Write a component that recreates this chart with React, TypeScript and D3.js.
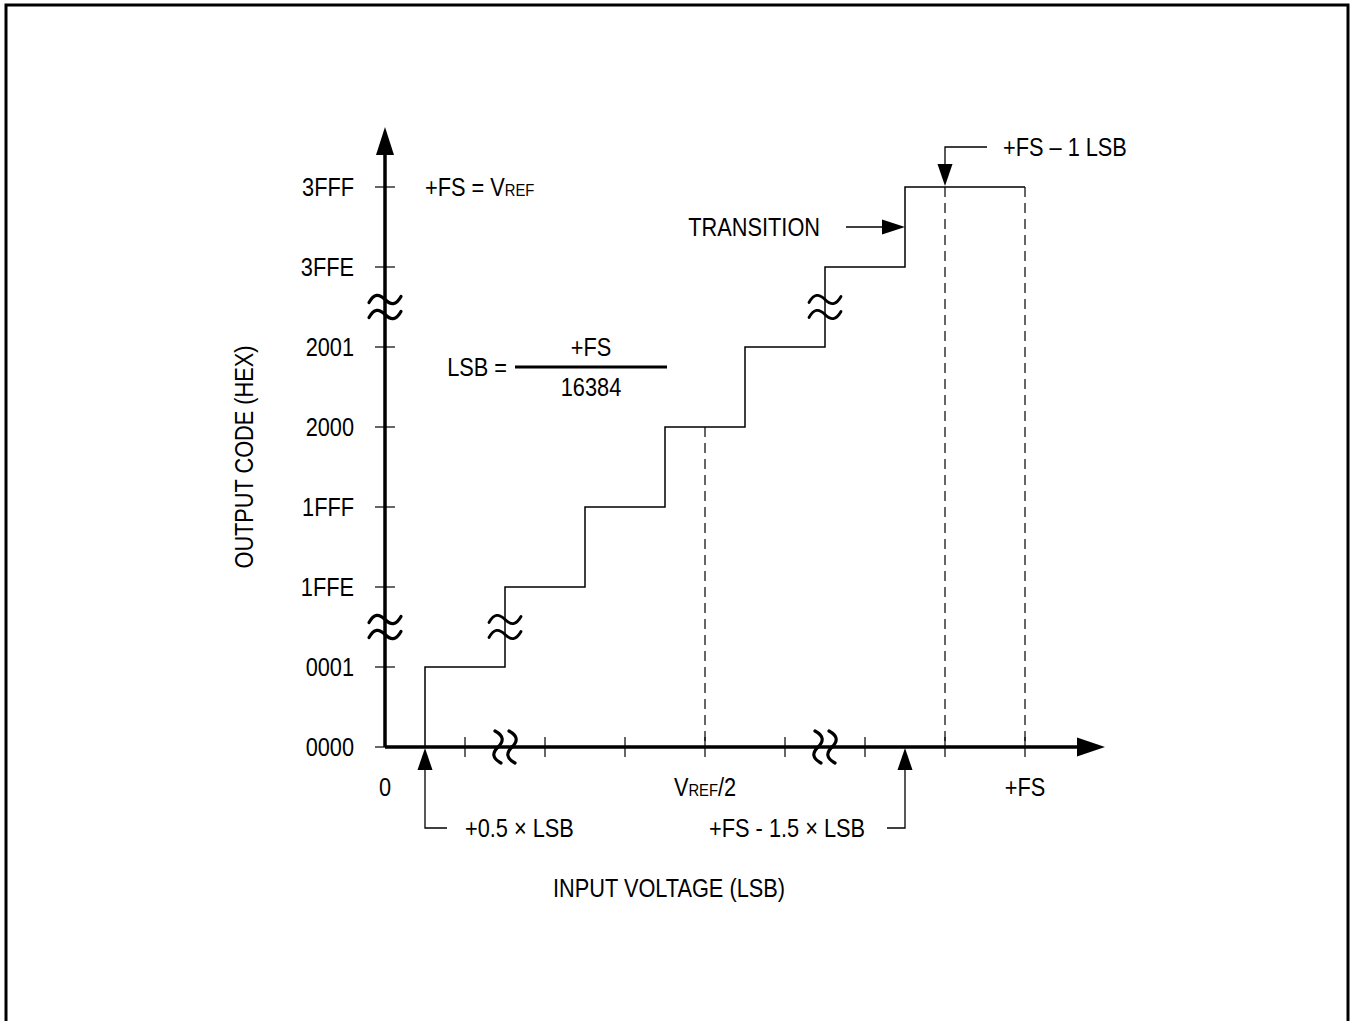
import React from "react";
import * as d3 from "d3";

// ---- data ----
const yCodeLabels = ["0000", "0001", "1FFE", "1FFF", "2000", "2001", "3FFE", "3FFF"];
const yCodeLevels = [0, 1, 2, 3, 4, 5, 6, 7];
const xTickValues = [1, 2, 3, 4, 5, 6, 7, 8];
const stepX = [0.5, 1.5, 2.5, 3.5, 4.5, 5.5, 6.5, 8];
const stepCode = [0, 1, 2, 3, 4, 5, 6, 7];
const dashedX = [4, 7, 8];
const dashedTop = [4, 7, 7];
const axisBreaks = [1.5, 5.5];
const stepBreaks: [number, number][] = [[1.5, 1.5], [5.5, 5.5]];

const W = 1350;
const H = 1021;
const FONT = "'Liberation Sans', Arial, sans-serif";
const FS = 25;
const SUB = 17;
const SX = 0.87;

const x = d3.scaleLinear().domain([0, 9]).range([385, 1105]);
const y = d3.scaleLinear().domain([0, 7.75]).range([747, 127]);

const tilde = "M-16,3 C-11,-6 -6,-6 0,0 C6,6 11,6 16,-3";

function Tilde({ cx, cy, rot = 0, w = 3 }: { cx: number; cy: number; rot?: number; w?: number }) {
  return (
    <path d={tilde} transform={`translate(${cx},${cy}) rotate(${rot})`} fill="none" stroke="#000" strokeWidth={w} strokeLinecap="round" />
  );
}

function Txt(props: any) {
  const { children, x: tx = 0, y: ty = 0, rot = 0, ...rest } = props;
  return (
    <text
      transform={`translate(${tx},${ty}) rotate(${rot}) scale(${SX},1)`}
      fontFamily={FONT}
      fontSize={FS}
      fill="#000"
      {...rest}
    >
      {children}
    </text>
  );
}

export default function App() {
  const stepLine = d3
    .line<number>()
    .x((_, i) => x(stepX[i]))
    .y((d) => y(d))
    .curve(d3.curveStepBefore);

  const x0 = x(0);
  const y0 = y(0);
  const capHalf = 9;

  return (
    <svg width={W} height={H} style={{ position: "absolute", left: 0, top: 0, background: "#fff" }}>
      <rect x={0} y={0} width={W} height={H} fill="#fff" />
      {/* frame */}
      <rect x={6} y={5} width={1342} height={1040} fill="none" stroke="#000" strokeWidth={3} />

      {/* dashed verticals */}
      {dashedX.map((d, i) => (
        <line key={"dl" + i} x1={x(d)} x2={x(d)} y1={y(dashedTop[i])} y2={y0} stroke="#000" strokeWidth={1.2} strokeDasharray="10,6" />
      ))}

      {/* step transfer function */}
      <path d={stepLine(stepCode) || ""} fill="none" stroke="#000" strokeWidth={1.5} />
      {stepBreaks.map(([bx, by], i) => (
        <g key={"sb" + i}>
          <Tilde cx={x(bx)} cy={y(by) - 7.5} w={2.8} />
          <Tilde cx={x(bx)} cy={y(by) + 7.5} w={2.8} />
        </g>
      ))}

      {/* y axis */}
      <line x1={x0} x2={x0} y1={y0} y2={y(7.75) + 20} stroke="#000" strokeWidth={3.5} />
      <path d={`M${x0},${y(7.75)} L${x0 - 9},${y(7.75) + 28} L${x0 + 9},${y(7.75) + 28} Z`} fill="#000" />
      {yCodeLevels.map((lv, i) => (
        <g key={"yt" + i}>
          <line x1={x0 - 10} x2={x0 + 10} y1={y(lv)} y2={y(lv)} stroke="#000" strokeWidth={1.2} />
          <Txt x={x0 - 31} y={y(lv) + capHalf} textAnchor="end">
            {yCodeLabels[i]}
          </Txt>
        </g>
      ))}
      {axisBreaks.map((b, i) => (
        <g key={"yb" + i}>
          <Tilde cx={x0} cy={y(b) - 7.5} w={3.2} />
          <Tilde cx={x0} cy={y(b) + 7.5} w={3.2} />
        </g>
      ))}

      {/* x axis */}
      <line x1={x0} x2={x(9) - 20} y1={y0} y2={y0} stroke="#000" strokeWidth={3.5} />
      <path d={`M${x(9)},${y0} L${x(9) - 28},${y0 - 9.5} L${x(9) - 28},${y0 + 9.5} Z`} fill="#000" />
      {xTickValues.map((t) => (
        <line key={"xt" + t} x1={x(t)} x2={x(t)} y1={y0 - 10} y2={y0 + 10} stroke="#000" strokeWidth={1.2} />
      ))}
      {axisBreaks.map((b, i) => (
        <g key={"xb" + i}>
          <Tilde cx={x(b) - 7} cy={y0} rot={90} w={3.2} />
          <Tilde cx={x(b) + 7} cy={y0} rot={90} w={3.2} />
        </g>
      ))}

      {/* x labels */}
      <Txt x={x0} y={y0 + 40 + capHalf} textAnchor="middle">0</Txt>
      <Txt x={x(4)} y={y0 + 40 + capHalf} textAnchor="middle">
        V<tspan fontSize={SUB}>REF</tspan>/2
      </Txt>
      <Txt x={x(8)} y={y0 + 40 + capHalf} textAnchor="middle">+FS</Txt>

      {/* +FS = VREF */}
      <Txt x={x(0.5)} y={y(7) + capHalf}>
        +FS = V<tspan fontSize={SUB}>REF</tspan>
      </Txt>

      {/* LSB fraction */}
      <Txt x={507} y={y(4.75) + capHalf} textAnchor="end">LSB =</Txt>
      <line x1={515} x2={667} y1={y(4.75)} y2={y(4.75)} stroke="#000" strokeWidth={3} />
      <Txt x={591} y={y(4.75) - 20 + capHalf} textAnchor="middle">+FS</Txt>
      <Txt x={591} y={y(4.75) + 20 + capHalf} textAnchor="middle">16384</Txt>

      {/* TRANSITION annotation */}
      <Txt x={820} y={y(6.5) + capHalf} textAnchor="end">TRANSITION</Txt>
      <line x1={846} x2={x(6.5) - 20} y1={y(6.5)} y2={y(6.5)} stroke="#000" strokeWidth={1.3} />
      <path d={`M${x(6.5)},${y(6.5)} L${x(6.5) - 23},${y(6.5) - 7.5} L${x(6.5) - 23},${y(6.5) + 7.5} Z`} fill="#000" />

      {/* +FS - 1 LSB annotation */}
      <Txt x={1003} y={y(7.5) + capHalf}>+FS – 1 LSB</Txt>
      <path d={`M${x(7.5) + 2},${y(7.5)} L${x(7)},${y(7.5)} L${x(7)},${y(7) - 18}`} fill="none" stroke="#000" strokeWidth={1.3} />
      <path d={`M${x(7)},${y(7) - 1} L${x(7) - 7.5},${y(7) - 23} L${x(7) + 7.5},${y(7) - 23} Z`} fill="#000" />

      {/* +0.5 x LSB annotation */}
      <path d={`M${x(0.5)},${y0 + 18} L${x(0.5)},${828} L${447},${828}`} fill="none" stroke="#000" strokeWidth={1.3} />
      <path d={`M${x(0.5)},${y0 + 1} L${x(0.5) - 7.5},${y0 + 23} L${x(0.5) + 7.5},${y0 + 23} Z`} fill="#000" />
      <Txt x={x(1)} y={828 + capHalf}>+0.5 × LSB</Txt>

      {/* +FS - 1.5 x LSB annotation */}
      <path d={`M${x(6.5)},${y0 + 18} L${x(6.5)},${828} L${887},${828}`} fill="none" stroke="#000" strokeWidth={1.3} />
      <path d={`M${x(6.5)},${y0 + 1} L${x(6.5) - 7.5},${y0 + 23} L${x(6.5) + 7.5},${y0 + 23} Z`} fill="#000" />
      <Txt x={x(6)} y={828 + capHalf} textAnchor="end">+FS - 1.5 × LSB</Txt>

      {/* axis titles */}
      <Txt x={669} y={888 + capHalf} textAnchor="middle">INPUT VOLTAGE (LSB)</Txt>
      <Txt x={244 + capHalf} y={457} rot={-90} textAnchor="middle">OUTPUT CODE (HEX)</Txt>
    </svg>
  );
}
